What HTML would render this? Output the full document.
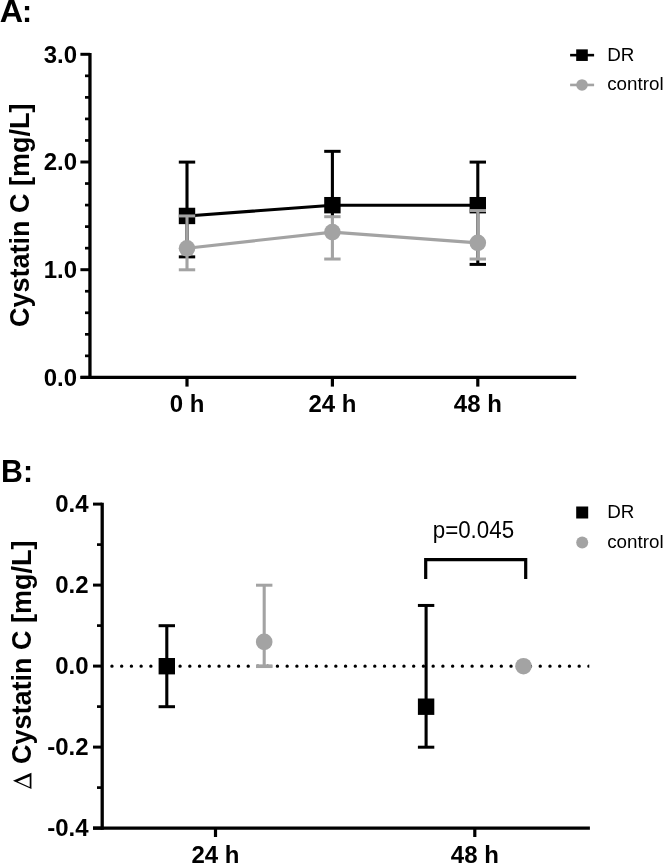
<!DOCTYPE html>
<html><head><meta charset="utf-8"><title>Cystatin C</title>
<style>html,body{margin:0;padding:0;background:#fff;}svg{display:block;will-change:transform;}text{font-family:"Liberation Sans",sans-serif;}.b{font-weight:bold;}</style>
</head><body>
<svg width="663" height="864" viewBox="0 0 663 864">
<defs><clipPath id="cl"><rect x="100" y="660" width="489.3" height="12"/></clipPath></defs>
<rect width="663" height="864" fill="#fff"/>
<line x1="89.95" y1="52.90" x2="89.95" y2="379.05" stroke="#000" stroke-width="3.3"/>
<line x1="80.50" y1="377.40" x2="576.20" y2="377.40" stroke="#000" stroke-width="3.3"/>
<line x1="80.40" y1="377.40" x2="89.95" y2="377.40" stroke="#000" stroke-width="3.0"/>
<line x1="85.00" y1="355.86" x2="89.95" y2="355.86" stroke="#000" stroke-width="2.7"/>
<line x1="85.00" y1="334.32" x2="89.95" y2="334.32" stroke="#000" stroke-width="2.7"/>
<line x1="85.00" y1="312.78" x2="89.95" y2="312.78" stroke="#000" stroke-width="2.7"/>
<line x1="85.00" y1="291.24" x2="89.95" y2="291.24" stroke="#000" stroke-width="2.7"/>
<line x1="80.40" y1="269.70" x2="89.95" y2="269.70" stroke="#000" stroke-width="3.0"/>
<line x1="85.00" y1="248.16" x2="89.95" y2="248.16" stroke="#000" stroke-width="2.7"/>
<line x1="85.00" y1="226.62" x2="89.95" y2="226.62" stroke="#000" stroke-width="2.7"/>
<line x1="85.00" y1="205.08" x2="89.95" y2="205.08" stroke="#000" stroke-width="2.7"/>
<line x1="85.00" y1="183.54" x2="89.95" y2="183.54" stroke="#000" stroke-width="2.7"/>
<line x1="80.40" y1="162.00" x2="89.95" y2="162.00" stroke="#000" stroke-width="3.0"/>
<line x1="85.00" y1="140.46" x2="89.95" y2="140.46" stroke="#000" stroke-width="2.7"/>
<line x1="85.00" y1="118.92" x2="89.95" y2="118.92" stroke="#000" stroke-width="2.7"/>
<line x1="85.00" y1="97.38" x2="89.95" y2="97.38" stroke="#000" stroke-width="2.7"/>
<line x1="85.00" y1="75.84" x2="89.95" y2="75.84" stroke="#000" stroke-width="2.7"/>
<line x1="80.40" y1="54.30" x2="89.95" y2="54.30" stroke="#000" stroke-width="3.0"/>
<text transform="translate(77.00,385.60) scale(1,1.03)" font-size="24" text-anchor="end" class="b" fill="#000">0.0</text>
<text transform="translate(77.00,277.90) scale(1,1.03)" font-size="24" text-anchor="end" class="b" fill="#000">1.0</text>
<text transform="translate(77.00,170.20) scale(1,1.03)" font-size="24" text-anchor="end" class="b" fill="#000">2.0</text>
<text transform="translate(77.00,62.50) scale(1,1.03)" font-size="24" text-anchor="end" class="b" fill="#000">3.0</text>
<line x1="187.00" y1="377.40" x2="187.00" y2="386.60" stroke="#000" stroke-width="3.2"/>
<text transform="translate(187.00,412.40) scale(1,1.02)" font-size="24" text-anchor="middle" class="b" fill="#000">0 h</text>
<line x1="332.40" y1="377.40" x2="332.40" y2="386.60" stroke="#000" stroke-width="3.2"/>
<text transform="translate(332.40,412.40) scale(1,1.02)" font-size="24" text-anchor="middle" class="b" fill="#000">24 h</text>
<line x1="477.80" y1="377.40" x2="477.80" y2="386.60" stroke="#000" stroke-width="3.2"/>
<text transform="translate(477.80,412.40) scale(1,1.02)" font-size="24" text-anchor="middle" class="b" fill="#000">48 h</text>
<text transform="translate(29.3,215.3) rotate(-90) scale(1,1.025)" font-size="27" text-anchor="middle" class="b" fill="#000">Cystatin C [mg/L]</text>
<text transform="translate(-0.2,22.1) scale(1.067,1.04)" font-size="30.3" class="b" fill="#000">A</text>
<text transform="translate(22.1,22.1) scale(1,1.04)" font-size="30.3" class="b" fill="#000">:</text>
<line x1="187.00" y1="256.88" x2="187.00" y2="162.10" stroke="#000" stroke-width="3.1"/>
<line x1="178.80" y1="256.88" x2="195.20" y2="256.88" stroke="#000" stroke-width="3.0"/>
<line x1="178.80" y1="162.10" x2="195.20" y2="162.10" stroke="#000" stroke-width="3.0"/>
<line x1="332.40" y1="217.03" x2="332.40" y2="151.33" stroke="#000" stroke-width="3.1"/>
<line x1="324.20" y1="151.33" x2="340.60" y2="151.33" stroke="#000" stroke-width="3.0"/>
<line x1="477.80" y1="264.41" x2="477.80" y2="162.10" stroke="#000" stroke-width="3.1"/>
<line x1="469.60" y1="264.41" x2="486.00" y2="264.41" stroke="#000" stroke-width="3.0"/>
<line x1="469.60" y1="162.10" x2="486.00" y2="162.10" stroke="#000" stroke-width="3.0"/>
<polyline fill="none" stroke="#000" stroke-width="3.1" points="187.00,215.95 332.40,205.18 477.80,205.18"/>
<rect x="178.80" y="207.75" width="16.4" height="16.4" fill="#000"/>
<rect x="324.20" y="196.98" width="16.4" height="16.4" fill="#000"/>
<rect x="469.60" y="196.98" width="16.4" height="16.4" fill="#000"/>
<line x1="187.00" y1="269.80" x2="187.00" y2="215.95" stroke="#a3a3a3" stroke-width="3.1"/>
<line x1="178.80" y1="269.80" x2="195.20" y2="269.80" stroke="#a3a3a3" stroke-width="3.0"/>
<line x1="178.80" y1="215.95" x2="195.20" y2="215.95" stroke="#a3a3a3" stroke-width="3.0"/>
<line x1="332.40" y1="259.03" x2="332.40" y2="216.70" stroke="#a3a3a3" stroke-width="3.1"/>
<line x1="324.20" y1="259.03" x2="340.60" y2="259.03" stroke="#a3a3a3" stroke-width="3.0"/>
<line x1="324.20" y1="216.70" x2="340.60" y2="216.70" stroke="#a3a3a3" stroke-width="3.0"/>
<line x1="477.80" y1="259.03" x2="477.80" y2="210.56" stroke="#a3a3a3" stroke-width="3.1"/>
<line x1="469.60" y1="259.03" x2="486.00" y2="259.03" stroke="#a3a3a3" stroke-width="3.0"/>
<line x1="469.60" y1="210.56" x2="486.00" y2="210.56" stroke="#a3a3a3" stroke-width="3.0"/>
<polyline fill="none" stroke="#a3a3a3" stroke-width="3.1" points="187.00,248.26 332.40,232.10 477.80,242.87"/>
<circle cx="187.00" cy="248.26" r="8.3" fill="#a3a3a3"/>
<circle cx="332.40" cy="232.10" r="8.3" fill="#a3a3a3"/>
<circle cx="477.80" cy="242.87" r="8.3" fill="#a3a3a3"/>
<line x1="570.10" y1="55.15" x2="594.10" y2="55.15" stroke="#000" stroke-width="2.6"/>
<rect x="576.20" y="49.35" width="11.6" height="11.6" fill="#000"/>
<text transform="translate(607.30,61.10) scale(1,1.0)" font-size="18.8" text-anchor="start" fill="#000">DR</text>
<line x1="570.10" y1="84.95" x2="594.10" y2="84.95" stroke="#a3a3a3" stroke-width="2.6"/>
<circle cx="582.00" cy="84.95" r="5.8" fill="#a3a3a3"/>
<text transform="translate(607.20,90.10) scale(1,1.0)" font-size="18.8" text-anchor="start" fill="#000">control</text>
<line x1="102.20" y1="502.70" x2="102.20" y2="829.75" stroke="#000" stroke-width="3.3"/>
<line x1="93.00" y1="828.10" x2="589.90" y2="828.10" stroke="#000" stroke-width="3.3"/>
<line x1="93.00" y1="828.10" x2="102.20" y2="828.10" stroke="#000" stroke-width="3.0"/>
<line x1="97.00" y1="787.60" x2="102.20" y2="787.60" stroke="#000" stroke-width="2.7"/>
<line x1="93.00" y1="747.10" x2="102.20" y2="747.10" stroke="#000" stroke-width="3.0"/>
<line x1="97.00" y1="706.60" x2="102.20" y2="706.60" stroke="#000" stroke-width="2.7"/>
<line x1="93.00" y1="666.10" x2="102.20" y2="666.10" stroke="#000" stroke-width="3.0"/>
<line x1="97.00" y1="625.60" x2="102.20" y2="625.60" stroke="#000" stroke-width="2.7"/>
<line x1="93.00" y1="585.10" x2="102.20" y2="585.10" stroke="#000" stroke-width="3.0"/>
<line x1="97.00" y1="544.60" x2="102.20" y2="544.60" stroke="#000" stroke-width="2.7"/>
<line x1="93.00" y1="504.10" x2="102.20" y2="504.10" stroke="#000" stroke-width="3.0"/>
<text transform="translate(88.60,512.30) scale(1,1.03)" font-size="24" text-anchor="end" class="b" fill="#000">0.4</text>
<text transform="translate(88.60,593.30) scale(1,1.03)" font-size="24" text-anchor="end" class="b" fill="#000">0.2</text>
<text transform="translate(88.60,674.30) scale(1,1.03)" font-size="24" text-anchor="end" class="b" fill="#000">0.0</text>
<text transform="translate(88.60,755.30) scale(1,1.03)" font-size="24" text-anchor="end" class="b" fill="#000">-0.2</text>
<text transform="translate(88.60,836.30) scale(1,1.03)" font-size="24" text-anchor="end" class="b" fill="#000">-0.4</text>
<line x1="215.50" y1="828.10" x2="215.50" y2="837.00" stroke="#000" stroke-width="3.2"/>
<text transform="translate(215.50,863.10) scale(1,1.02)" font-size="24" text-anchor="middle" class="b" fill="#000">24 h</text>
<line x1="474.80" y1="828.10" x2="474.80" y2="837.00" stroke="#000" stroke-width="3.2"/>
<text transform="translate(474.80,863.10) scale(1,1.02)" font-size="24" text-anchor="middle" class="b" fill="#000">48 h</text>
<line x1="111.95" y1="666.15" x2="594" y2="666.15" clip-path="url(#cl)" stroke="#000" stroke-width="3.4" stroke-linecap="round" stroke-dasharray="0 9.734"/>
<path fill="#000" fill-rule="evenodd" d="M12.98 780.7L31.44 772.8L31.44 789.1ZM17.7 781.4L29.7 787L29.7 776.6Z"/>
<text transform="translate(31.4,763.9) rotate(-90) scale(1,1.025)" font-size="27" text-anchor="start" class="b" fill="#000">Cystatin C [mg/L]</text>
<text transform="translate(1.00,481.70) scale(1,1.04)" font-size="30.3" text-anchor="start" class="b" fill="#000">B:</text>
<line x1="166.80" y1="706.70" x2="166.80" y2="625.70" stroke="#000" stroke-width="3.1"/>
<line x1="158.60" y1="706.70" x2="175.00" y2="706.70" stroke="#000" stroke-width="3.0"/>
<line x1="158.60" y1="625.70" x2="175.00" y2="625.70" stroke="#000" stroke-width="3.0"/>
<rect x="158.60" y="658.00" width="16.4" height="16.4" fill="#000"/>
<line x1="426.10" y1="747.20" x2="426.10" y2="605.45" stroke="#000" stroke-width="3.1"/>
<line x1="417.90" y1="747.20" x2="434.30" y2="747.20" stroke="#000" stroke-width="3.0"/>
<line x1="417.90" y1="605.45" x2="434.30" y2="605.45" stroke="#000" stroke-width="3.0"/>
<rect x="417.90" y="698.50" width="16.4" height="16.4" fill="#000"/>
<line x1="264.20" y1="666.20" x2="264.20" y2="585.20" stroke="#a3a3a3" stroke-width="3.1"/>
<line x1="256.00" y1="666.20" x2="272.40" y2="666.20" stroke="#a3a3a3" stroke-width="3.0"/>
<line x1="256.00" y1="585.20" x2="272.40" y2="585.20" stroke="#a3a3a3" stroke-width="3.0"/>
<line x1="256.00" y1="666.30" x2="272.40" y2="666.30" stroke="#a3a3a3" stroke-width="3.5"/>
<circle cx="264.20" cy="641.90" r="8.3" fill="#a3a3a3"/>
<circle cx="523.50" cy="666.20" r="8.3" fill="#a3a3a3"/>
<polyline fill="none" stroke="#000" stroke-width="3.2" points="425.7,579.0 425.7,559.7 525.7,559.7 525.7,579.0"/>
<text transform="translate(473.40,537.60) scale(1,1.05)" font-size="22.35" text-anchor="middle" fill="#000">p=0.045</text>
<rect x="576.20" y="506.50" width="12" height="12" fill="#000"/>
<text transform="translate(607.30,518.20) scale(1,1.0)" font-size="18.8" text-anchor="start" fill="#000">DR</text>
<circle cx="582.20" cy="542.60" r="6" fill="#a3a3a3"/>
<text transform="translate(607.20,547.80) scale(1,1.0)" font-size="18.8" text-anchor="start" fill="#000">control</text>
</svg>
</body></html>
